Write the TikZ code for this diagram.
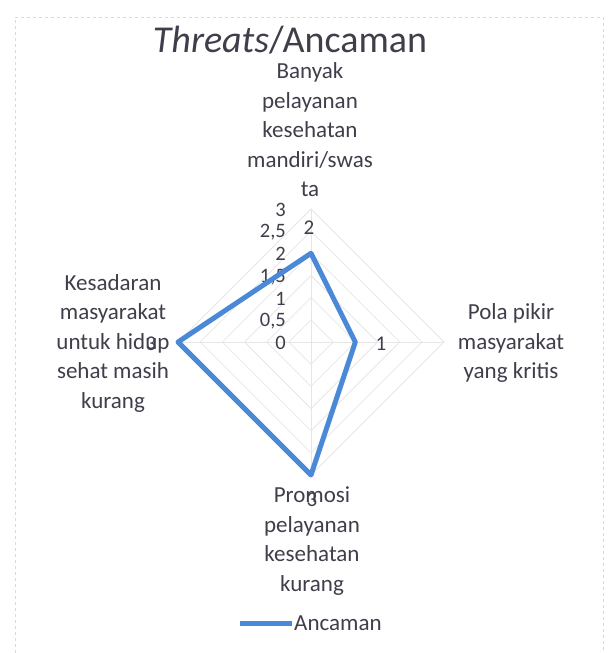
\documentclass[tikz,border=0pt]{standalone}
\usepackage{fontspec}
\setmainfont{Carlito}
\definecolor{txt}{HTML}{403E4A}
\definecolor{ser}{HTML}{4A88D8}
\definecolor{grd}{HTML}{E6E6E6}
\begin{document}
\begin{tikzpicture}[x=1pt,y=-1pt,
  cat/.style={text=txt,align=center,font=\fontsize{23}{29.5}\selectfont,inner sep=0pt},
  tick/.style={text=txt,font=\fontsize{20.5}{22}\selectfont,inner sep=0pt},
  dlab/.style={text=txt,font=\fontsize{21}{22}\selectfont,inner sep=0pt},
  series/.style={ser,line width=5pt,line join=round,line cap=round}]
\useasboundingbox (0,0) rectangle (611,653);
\draw[gray!30,dashed] (15,653) -- (15,17) -- (603,17) -- (603,653);
\coordinate (c) at (311,342);
% grid
\foreach \k in {1,...,6}{
  \pgfmathsetmacro{\r}{\k*22.17}
  \draw[grd,line width=0.8pt] (c) ++(0,-\r) -- ++(\r,\r) -- ++(-\r,\r) -- ++(-\r,-\r) -- cycle;
}
\coordinate (aT) at (311,209);
\coordinate (aR) at (444,342);
\coordinate (aB) at (311,475);
\coordinate (aL) at (178,342);
\foreach \a in {aT,aR,aB,aL} \draw[grd,line width=0.8pt] (c) -- (\a);
% title
\node[text=txt,font=\fontsize{38}{42}\selectfont,inner sep=0pt] (title) at (290,40) {\textit{Threats}/Ancaman};
% category labels
\node[cat] (catT) at (310,130) {Banyak\\pelayanan\\kesehatan\\mandiri/swas\\ta};
\node[cat] (catR) at (511,343) {Pola pikir\\masyarakat\\yang kritis};
\node[cat] (catB) at (312,541) {Promosi\\pelayanan\\kesehatan\\kurang};
\node[cat] (catL) at (113,343) {Kesadaran\\masyarakat\\untuk hidup\\sehat masih\\kurang};
% tick labels
\node[tick,anchor=east] (t0) at (286,343) {0};
\node[tick,anchor=east] (t1) at (286,321) {0,5};
\node[tick,anchor=east] (t2) at (286,299) {1};
\node[tick,anchor=east] (t3) at (286,277) {1,5};
\node[tick,anchor=east] (t4) at (286,254) {2};
\node[tick,anchor=east] (t5) at (286,232) {2,5};
\node[tick,anchor=east] (t6) at (286,210) {3};
% series
\coordinate (pT) at (311,253.3);
\coordinate (pR) at (355.3,342);
\coordinate (pB) at (311,475);
\coordinate (pL) at (178,342);
\draw[series] (pT) -- (pR) -- (pB) -- (pL) -- cycle;
% data labels
\node[dlab] (d1) at (309,228) {2};
\node[dlab] (d2) at (381,344) {1};
\node[dlab] (d3) at (312,500) {3};
\node[dlab] (d4) at (151,344) {3};
% legend
\coordinate (lg1) at (240,623);
\coordinate (lg2) at (292,623);
\draw[series,line cap=butt] (lg1) -- (lg2);
\node[text=txt,font=\fontsize{23}{26}\selectfont,anchor=west,inner sep=0pt] (leg) at (294,623) {Ancaman};
\end{tikzpicture}
\end{document}
